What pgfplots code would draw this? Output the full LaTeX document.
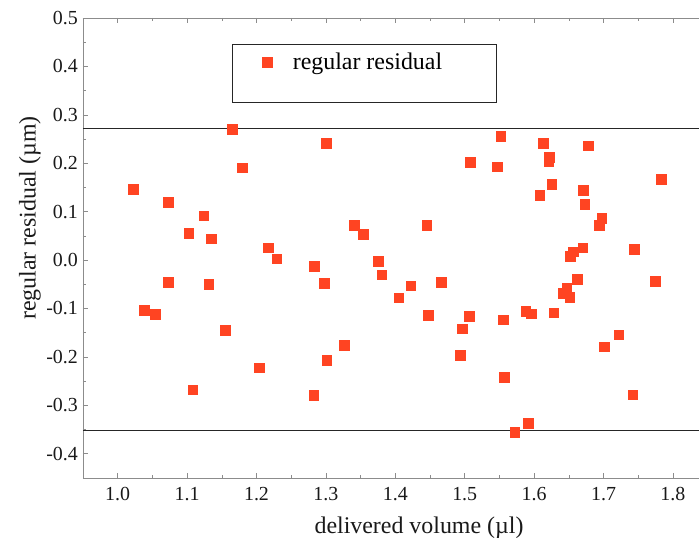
\documentclass[border=0pt]{standalone}
\usepackage{pgfplots}
\pgfplotsset{compat=1.18}
\usepackage{fontspec}
\setmainfont{Liberation Serif}
\definecolor{mk}{RGB}{255,68,34}
\definecolor{axgray}{RGB}{140,140,140}
\begin{document}
\begin{tikzpicture}
\begin{axis}[
  at={(0,0)}, anchor=south west,
  scale only axis, width=616bp, height=460bp,
  xmin=0.95, xmax=1.8376, ymin=-0.4504, ymax=0.5,
  axis x line=box, axis y line=left,
  axis line style={-, draw=axgray, line width=0.6pt},
  xtick={1.0,1.1,1.2,1.3,1.4,1.5,1.6,1.7,1.8},
  xticklabels={\textrm{1.0},\textrm{1.1},\textrm{1.2},\textrm{1.3},\textrm{1.4},\textrm{1.5},\textrm{1.6},\textrm{1.7},\textrm{1.8}},
  ytick={-0.4,-0.3,-0.2,-0.1,0,0.1,0.2,0.3,0.4,0.5},
  yticklabels={\textrm{-0.4},\textrm{-0.3},\textrm{-0.2},\textrm{-0.1},\textrm{0.0},\textrm{0.1},\textrm{0.2},\textrm{0.3},\textrm{0.4},\textrm{0.5}},
  minor x tick num=1, minor y tick num=1,
  tick align=inside,
  major tick length=5bp, minor tick length=3bp,
  tick style={draw=axgray, line width=0.5pt},
  tick label style={font=\fontsize{20}{24}\selectfont, text=black!90},
  yticklabel style={inner xsep=0pt, xshift=-5bp},
  xticklabel style={inner ysep=0pt, yshift=-9bp},
  xlabel={delivered volume (\textmu l)},
  ylabel={regular residual (\textmu m)},
  every axis x label/.style={at={(rel axis cs:0.5455,-0.1196)}, anchor=base, font=\fontsize{24}{28}\selectfont, text=black!90},
  every axis y label/.style={at={(rel axis cs:-0.086,0.565)}, anchor=center, rotate=90, font=\fontsize{24}{28}\selectfont, text=black!90},
  clip=true,
  legend image code/.code={\draw[#1] plot coordinates {(0bp,0bp)};},
  legend style={draw=none, fill=none, at={(rel axis cs:0.2906,0.9043)}, anchor=west,
    inner sep=0pt, nodes={inner sep=0pt}, font=\fontsize{24}{28}\selectfont,
    /tikz/every odd column/.append style={column sep=21bp}},
]
\addplot[only marks, mark=square*, mark size=4.8bp, mark options={fill=mk, draw=mk, line width=0.2pt}] coordinates {
(1.022,0.147) (1.038,-0.104) (1.054,-0.112) (1.0725,0.120) (1.0725,-0.046)
(1.102,0.055) (1.108,-0.268) (1.124,0.092) (1.131,-0.050) (1.135,0.044)
(1.155,-0.145) (1.165,0.270) (1.179,0.191) (1.204,-0.222) (1.217,0.026)
(1.229,0.003) (1.282,-0.279) (1.283,-0.012) (1.297,-0.048) (1.300,0.241)
(1.301,-0.207) (1.326,-0.176) (1.3405,0.072) (1.354,0.053) (1.375,-0.002)
(1.380,-0.030) (1.405,-0.078) (1.422,-0.053) (1.445,0.072) (1.447,-0.114)
(1.466,-0.046) (1.493,-0.197) (1.496,-0.142) (1.506,-0.116) (1.508,0.202)
(1.547,0.193) (1.552,0.256) (1.555,-0.123) (1.557,-0.242) (1.572,-0.355)
(1.588,-0.105) (1.591,-0.337) (1.596,-0.111) (1.608,0.134) (1.613,0.242)
(1.621,0.204) (1.622,0.213) (1.625,0.157) (1.628,-0.109) (1.642,-0.069)
(1.647,-0.058) (1.651,-0.077) (1.652,0.008) (1.656,0.017) (1.662,-0.039)
(1.670,0.026) (1.671,0.145) (1.673,0.116) (1.678,0.236) (1.694,0.072)
(1.697,0.087) (1.701,-0.179) (1.722,-0.154) (1.742,-0.278) (1.744,0.022)
(1.774,-0.043) (1.783,0.167)
};
\addlegendentry{regular residual}
\addplot[black!85, line width=0.8pt, forget plot] coordinates {(0.95,0.271) (1.8376,0.271)};
\addplot[black!85, line width=0.8pt, forget plot] coordinates {(0.95,-0.352) (1.8376,-0.352)};
\draw[black!85, line width=0.8pt] (rel axis cs:0.2419,0.9435) rectangle (rel axis cs:0.6705,0.8174);
\end{axis}
\pgfresetboundingbox
\useasboundingbox (-83bp,-60bp) rectangle (616bp,478bp);
\end{tikzpicture}
\end{document}
